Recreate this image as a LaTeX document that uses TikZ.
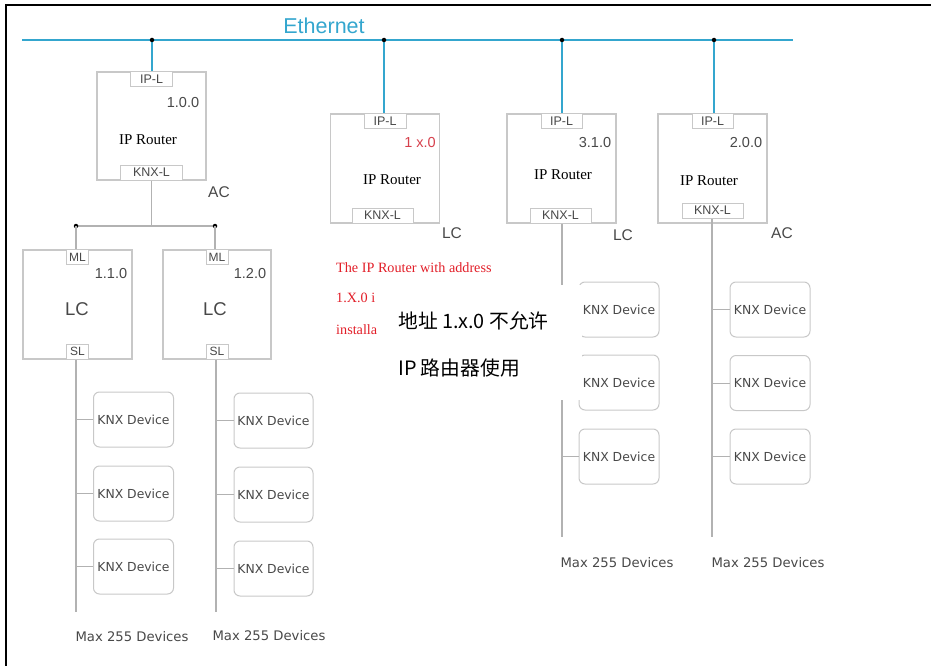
\documentclass[tikz,border=0pt]{standalone}
\usepackage{fontspec}
\setmainfont{Liberation Sans}
\newfontfamily\serifrm{Liberation Serif}
\newfontfamily\devfont{DejaVu Sans}
\newfontfamily\cjk{Noto Sans CJK SC}
\usetikzlibrary{positioning}

\definecolor{ethcyan}{RGB}{52,166,206}
\definecolor{linegray}{RGB}{178,178,178}
\definecolor{boxgray}{RGB}{200,200,200}
\definecolor{txtgray}{RGB}{72,72,72}
\definecolor{addrred}{RGB}{214,64,76}
\definecolor{notered}{RGB}{226,30,40}

\tikzset{
  router/.style={draw=boxgray, line width=1.3pt, minimum width=109pt, minimum height=109pt, inner sep=0pt},
  port/.style={draw=boxgray, fill=white, line width=1pt, minimum height=15pt, inner sep=1pt, text=txtgray, font=\fontsize{12.5}{12.5}\selectfont},
  device/.style={draw=boxgray, rounded corners=6pt, line width=1pt, minimum width=80pt, minimum height=55pt, inner sep=0pt, text=txtgray, font=\devfont\fontsize{12.4}{13}\selectfont},
  bus/.style={draw=linegray, line width=1.5pt},
  ethbus/.style={draw=ethcyan, line width=1.8pt},
  junction/.style={circle, fill=black, inner sep=0pt, minimum size=4.5pt},
  addr/.style={text=txtgray, font=\fontsize{14.5}{14.5}\selectfont},
  kind/.style={text=txtgray, font=\fontsize{15.5}{15.5}\selectfont},
  rlabel/.style={font=\serifrm\fontsize{15}{15}\selectfont},
  maxlabel/.style={text=txtgray, font=\devfont\fontsize{13.2}{13.2}\selectfont},
  notetext/.style={anchor=west, inner sep=0pt, text=notered, font=\serifrm\fontsize{14.2}{14.2}\selectfont},
  cjklabel/.style={anchor=west, inner sep=0pt, font=\cjk\fontsize{19.8}{19.8}\selectfont}
}

\begin{document}
\begin{tikzpicture}[x=1pt,y=-1pt]
  \useasboundingbox (0,0) rectangle (931,666);
  \draw[line width=1.5pt] (6,666) -- (6,5) -- (931,5);

  % Ethernet backbone
  \coordinate (eth0) at (22,40);
  \coordinate (eth5) at (793,40);
  \draw[ethbus] (eth0) -- (eth5);
  \node[text=ethcyan, font=\fontsize{21.5}{21.5}\selectfont] (ethlabel) at (324,26) {Ethernet};
  \coordinate (e1) at (152,40);
  \coordinate (e2) at (384,40);
  \coordinate (e3) at (562,40);
  \coordinate (e4) at (714,40);

  % IP routers
  \node[router, minimum height=108pt] (r1) at (151.5,126) {};
  \node[port, minimum width=42pt, anchor=north] (r1ip) at (r1.north) {IP-L};
  \node[port, minimum width=62pt, anchor=south] (r1knx) at (r1.south) {KNX-L};
  \node[addr] (r1addr) at (183,103) {1.0.0};
  \node[rlabel] (r1name) at (148,140) {IP Router};
  \node[kind] (r1kind) at (219,192) {AC};

  \node[router] (r2) at (385,168.5) {};
  \node[port, minimum width=42pt, anchor=north] (r2ip) at (r2.north) {IP-L};
  \node[port, minimum width=61pt, anchor=south] (r2knx) at ([xshift=-2.5pt]r2.south) {KNX-L};
  \node[addr, text=addrred] (r2addr) at (420,143) {1 x.0};
  \node[rlabel] (r2name) at (392,180) {IP Router};
  \node[kind] (r2kind) at (452,233) {LC};

  \node[router] (r3) at (561.5,168.5) {};
  \node[port, minimum width=41pt, anchor=north] (r3ip) at (r3.north) {IP-L};
  \node[port, minimum width=61pt, anchor=south] (r3knx) at ([xshift=-1pt]r3.south) {KNX-L};
  \node[addr] (r3addr) at (595,143) {3.1.0};
  \node[rlabel] (r3name) at (563,175) {IP Router};
  \node[kind] (r3kind) at (623,235) {LC};

  \node[router] (r4) at (712.5,168.5) {};
  \node[port, minimum width=41pt, anchor=north] (r4ip) at (r4.north) {IP-L};
  \node[port, minimum width=61pt, anchor=south] (r4knx) at ([yshift=5pt]r4.south) {KNX-L};
  \node[addr] (r4addr) at (746,143) {2.0.0};
  \node[rlabel] (r4name) at (709,181) {IP Router};
  \node[kind] (r4kind) at (782,233) {AC};

  \draw[ethbus, line width=1.4pt] (e1) -- (e1 |- r1ip.north);
  \draw[ethbus, line width=1.4pt] (e2) -- (e2 |- r2ip.north);
  \draw[ethbus, line width=1.4pt] (e3) -- (e3 |- r3ip.north);
  \draw[ethbus, line width=1.4pt] (e4) -- (e4 |- r4ip.north);
  \node[junction] at (e1) {};
  \node[junction] at (e2) {};
  \node[junction] at (e3) {};
  \node[junction] at (e4) {};

  % main line below 1.0.0
  \coordinate (j1) at (76,226);
  \coordinate (j2) at (215,226);
  \draw[bus] (r1knx.south) -- (r1knx.south |- j1);
  \draw[bus] (j1) -- (j2);
  \node[junction] at (j1) {};
  \node[junction] at (j2) {};

  % line couplers
  \node[router] (c1) at (77.5,304.5) {};
  \node[port, minimum width=22pt, anchor=north, font=\fontsize{12}{12}\selectfont] (c1ml) at (c1.north) {ML};
  \node[port, minimum width=22pt, anchor=south, font=\fontsize{12}{12}\selectfont] (c1sl) at (c1.south) {SL};
  \node[addr] (c1addr) at (111,274) {1.1.0};
  \node[kind, font=\fontsize{18.5}{18.5}\selectfont] (c1kind) at (77,309) {LC};

  \node[router, minimum width=108pt] (c2) at (217,304.5) {};
  \node[port, minimum width=22pt, anchor=north, font=\fontsize{12}{12}\selectfont] (c2ml) at (c2.north) {ML};
  \node[port, minimum width=22pt, anchor=south, font=\fontsize{12}{12}\selectfont] (c2sl) at (c2.south) {SL};
  \node[addr] (c2addr) at (250,274) {1.2.0};
  \node[kind, font=\fontsize{18.5}{18.5}\selectfont] (c2kind) at (215,309) {LC};

  \draw[bus] (j1) -- (j1 |- c1ml.north);
  \draw[bus] (j2) -- (j2 |- c2ml.north);

  % lines with devices
  \coordinate (end1) at (76,612);
  \coordinate (end2) at (216,612);
  \coordinate (end3) at (562,537);
  \coordinate (end4) at (712,537);
  \draw[bus] (end1 |- c1sl.south) -- (end1);
  \draw[bus] (end2 |- c2sl.south) -- (end2);
  \draw[bus] (end3 |- r3knx.south) -- (end3);
  \draw[bus] (end4 |- r4knx.south) -- (end4);

  \node[device] (d11) at (133.5,419.5) {KNX Device};
  \node[device, below=18pt of d11] (d12) {KNX Device};
  \node[device, below=17pt of d12] (d13) {KNX Device};
  \node[device, minimum width=79pt] (d21) at (273.5,420.5) {KNX Device};
  \node[device, minimum width=79pt, below=18pt of d21] (d22) {KNX Device};
  \node[device, minimum width=79pt, below=18pt of d22] (d23) {KNX Device};
  \node[device] (d31) at (619,309.5) {KNX Device};
  \node[device, below=17pt of d31] (d32) {KNX Device};
  \node[device, below=18pt of d32] (d33) {KNX Device};
  \node[device] (d41) at (770,309.5) {KNX Device};
  \node[device, below=17.5pt of d41] (d42) {KNX Device};
  \node[device, below=17.5pt of d42] (d43) {KNX Device};

  \draw[bus, line width=1pt] (end1 |- d11.west) -- (d11.west);
  \draw[bus, line width=1pt] (end1 |- d12.west) -- (d12.west);
  \draw[bus, line width=1pt] (end1 |- d13.west) -- (d13.west);
  \draw[bus, line width=1pt] (end2 |- d21.west) -- (d21.west);
  \draw[bus, line width=1pt] (end2 |- d22.west) -- (d22.west);
  \draw[bus, line width=1pt] (end2 |- d23.west) -- (d23.west);
  \draw[bus, line width=1pt] (end3 |- d31.west) -- (d31.west);
  \draw[bus, line width=1pt] (end3 |- d32.west) -- (d32.west);
  \draw[bus, line width=1pt] (end3 |- d33.west) -- (d33.west);
  \draw[bus, line width=1pt] (end4 |- d41.west) -- (d41.west);
  \draw[bus, line width=1pt] (end4 |- d42.west) -- (d42.west);
  \draw[bus, line width=1pt] (end4 |- d43.west) -- (d43.west);

  \node[maxlabel] (max1) at (132,637) {Max 255 Devices};
  \node[maxlabel] (max2) at (269,636) {Max 255 Devices};
  \node[maxlabel] (max3) at (617,563) {Max 255 Devices};
  \node[maxlabel] (max4) at (768,563) {Max 255 Devices};

  % note on 1.x.0
  \node[notetext] (note1) at (336,268) {The IP Router with address};
  \node[notetext] (note2) at (336,298) {1.X.0 i};
  \node[notetext] (note3) at (336,330) {installa};

  \fill[white] (378,285) rectangle (582,400);
  \node[cjklabel] (cn1) at (398,321) {地址 1.x.0 不允许};
  \node[cjklabel] (cn2) at (398,368) {IP 路由器使用};
\end{tikzpicture}
\end{document}
